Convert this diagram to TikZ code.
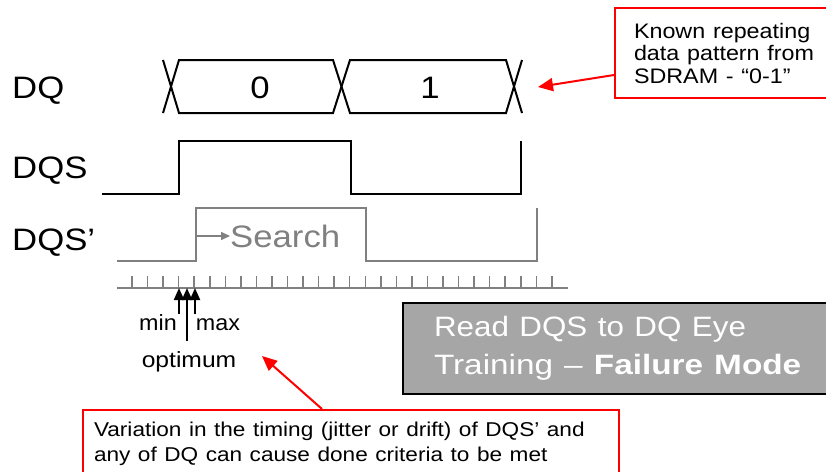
\documentclass[tikz,border=0pt]{standalone}
\usepackage{fontspec}
\setmainfont{Liberation Sans}
\usetikzlibrary{arrows.meta,calc}
\newcommand\hwide[2][1.12]{\scalebox{#1}[1]{#2}}

\begin{document}
\begin{tikzpicture}[x=1pt,y=-1pt,
   wave/.style={line width=2pt,black,line join=miter},
   gwave/.style={line width=2pt,black!50},
   siglabel/.style={anchor=base west,inner sep=0pt,font=\fontsize{31}{32}\selectfont},
   small/.style={anchor=base,inner sep=0pt,font=\fontsize{22}{22}\selectfont},
   note/.style={draw=red,line width=2pt,anchor=north west,align=left,
      font=\fontsize{21}{22.5}\selectfont},
   callout/.style={draw=red,line width=2pt,-{Triangle[length=15pt,width=13pt]}},
   mark arrow/.style={line width=2pt,black,-{Triangle[length=12pt,width=10pt]}}]
   \useasboundingbox (0,0) rectangle (826,471);
   \clip (0,0) rectangle (826,471);

         \node[siglabel,name=dq] at (12,98) {\hwide{DQ}};
         \node[siglabel,name=dqs] at (12,178) {\hwide{DQS}};
         \node[siglabel,name=dqsp] at (12,250) {\hwide{DQS’}};

         % DQ bus
         \draw[wave] (163,60) -- (179,113) -- (333,113) -- (350,60) -- (506,60) -- (522,113);
         \draw[wave] (163,113) -- (179,60) -- (333,60) -- (350,113) -- (506,113) -- (522,60);
         \node[siglabel,anchor=base,name=bit0] at (260,98) {\hwide{0}};
         \node[siglabel,anchor=base,name=bit1] at (430,98) {\hwide{1}};

         % DQS and shifted DQS'
         \draw[wave] (102,194) -- (179,194) -- (179,141) -- (351,141) -- (351,194) -- (521,194) -- (521,141);
         \draw[gwave] (117,261) -- (196,261) -- (196,208) -- (366,208) -- (366,261) -- (537,261) -- (537,208);
         \coordinate (rise) at (196,236);
         \node[siglabel,text=black!50,name=search] at (230,247) {\hwide{Search}};
         \draw[gwave,line width=1.5pt,-{Triangle[length=9pt,width=8pt]}] (rise) -- (search.west |- rise);

         % delay taps
         \draw[gwave] (117,288) -- (568,288);
         \foreach \i in {0,...,27}
            \draw[black!50,line width=1.5pt] (132+\i*15.55,276) -- ++(0,12);

         \coordinate (tmin) at (179,288);
         \coordinate (topt) at (187,288);
         \coordinate (tmax) at (195,288);
         \coordinate (bmin) at (179,314);
         \coordinate (bopt) at (187,341);
         \coordinate (bmax) at (195,314);
         \path[mark arrow]
            (bmin) edge (tmin)
            (bmax) edge (tmax)
            (bopt) edge (topt);
         \node[small,name=min] at (158,330) {\hwide[1.06]{min}};
         \node[small,name=max] at (218,330) {\hwide[1.06]{max}};
         \node[small,name=opt] at (189,367) {\hwide[1.12]{optimum}};

         % notes
         \node[note,name=known,text width=190pt,inner xsep=19pt,minimum height=90pt]
            at (614,7) {\hwide[1.11]{Known repeating}\\\hwide[1.11]{data pattern from}\\\hwide[1.11]{SDRAM - “0-1”}};
         \coordinate (busend) at (538,87);
         \draw[callout] ($(known.south west)+(0,-24)$) -- (busend);

         \node[draw=black,line width=2pt,fill=black!35,anchor=north west,align=left,
            text=white,font=\fontsize{28}{38}\selectfont,text width=400pt,
            inner xsep=31pt,minimum height=91pt,name=title]
            at (402,302) {\hwide{Read DQS to DQ Eye}\\\hwide[1.19]{Training – \textbf{Failure Mode}}};

         \node[note,name=vary,text width=514pt,inner xsep=11pt,inner ysep=12pt,
            font=\fontsize{20}{25}\selectfont]
            at (82,409) {\hwide[1.13]{Variation in the timing (jitter or drift) of DQS’ and}\\\hwide[1.13]{any of DQ can cause done criteria to be met}};
         \coordinate (optend) at (262,356);
         \draw[callout] ($(vary.north west)+(240,0)$) -- (optend);
\end{tikzpicture}
\end{document}
